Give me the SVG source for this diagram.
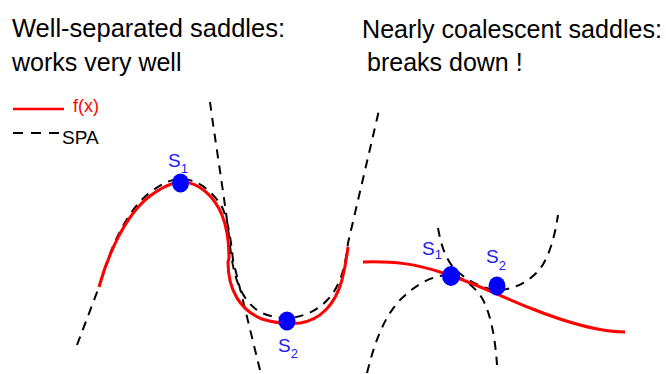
<svg xmlns="http://www.w3.org/2000/svg" width="666" height="374" viewBox="0 0 666 374">
<style>
.t{font-family:"Liberation Sans",Arial,sans-serif;font-size:25px;fill:#000}
.f{fill:none;stroke:#ff0000;stroke-width:3;stroke-linecap:butt}
.d{fill:none;stroke:#000;stroke-width:2;stroke-dasharray:9,7}
.dot{fill:#0000ff}
.s{font-family:"Liberation Sans",Arial,sans-serif;font-size:19px;fill:#1a1aff}
.sub{font-size:13px}
</style>
<rect width="666" height="374" fill="#fff"/>
<g id="titles">
<text class="t" x="12" y="37" textLength="273" lengthAdjust="spacingAndGlyphs">Well-separated saddles:</text>
<text class="t" x="12" y="71">works very well</text>
<text class="t" x="362" y="38" textLength="300" lengthAdjust="spacingAndGlyphs">Nearly coalescent saddles:</text>
<text class="t" x="367" y="71">breaks down !</text>
</g>
<g id="legend">
<line x1="13" y1="109" x2="64" y2="109" stroke="#ff0000" stroke-width="2.5"/>
<text x="73" y="112" font-family="Liberation Sans,Arial,sans-serif" font-size="18" fill="#ff0000">f(x)</text>
<line x1="13" y1="133" x2="60" y2="133" stroke="#000" stroke-width="2" stroke-dasharray="10,8"/>
<text x="62" y="144" font-family="Liberation Sans,Arial,sans-serif" font-size="19" fill="#000">SPA</text>
</g>
<g id="left-panel">
<path class="d" d="M77,345 L99,287 C108,255 123,215 148,194 C162,183 172,179 181,179 C200,179 215,195 222,207 C228,220 231,240 233,260 L260,370"/>
<path class="d" d="M210,102 C215,140 225,200 230,245 C233,275 240,300 260,312 C270,317 280,318 290,318 C310,316 325,305 333,293 C343,278 346,260 348,243 L380,106"/>
<path class="f" d="M99,287 C108,255 125,215 150,196 C165,185 175,182 182,182 C200,182 215,198 222,215 C228,230 229,245 229,258 L228,262 C228,290 240,310 262,319 C275,323 290,324 300,323 C320,320 335,305 342,280 C345,268 347,255 348,247"/>
</g>
<g id="right-panel">
<path class="d" d="M367,373 C374,345 383,318 400,300 C415,285 432,275 450,275 C462,276 474,286 482,298 C490,312 495,335 497,365"/>
<path class="d" d="M438,228 C441,245 446,262 458,272 C470,282 485,290 500,290 C515,289 530,281 540,269 C550,255 555,235 558,215"/>
<path class="f" d="M363,262 C395,261 415,264 440,272 C470,281 500,296 530,308 C560,320 595,332 625,332"/>
</g>
<g id="left-S1">
<ellipse class="dot" cx="180.5" cy="183" rx="8.5" ry="9.5"/>
<text class="s" x="168" y="167">S<tspan class="sub" dy="6">1</tspan></text>
</g>
<g id="left-S2">
<ellipse class="dot" cx="287" cy="321" rx="8.5" ry="9.5"/>
<text class="s" x="278" y="352">S<tspan class="sub" dy="6">2</tspan></text>
</g>
<g id="right-S1">
<ellipse class="dot" cx="451" cy="276" rx="9" ry="10"/>
<text class="s" x="422" y="255">S<tspan class="sub" dy="4">1</tspan></text>
</g>
<g id="right-S2">
<ellipse class="dot" cx="497" cy="286" rx="8.5" ry="9.5"/>
<text class="s" x="486" y="263">S<tspan class="sub" dy="7">2</tspan></text>
</g>
</svg>
